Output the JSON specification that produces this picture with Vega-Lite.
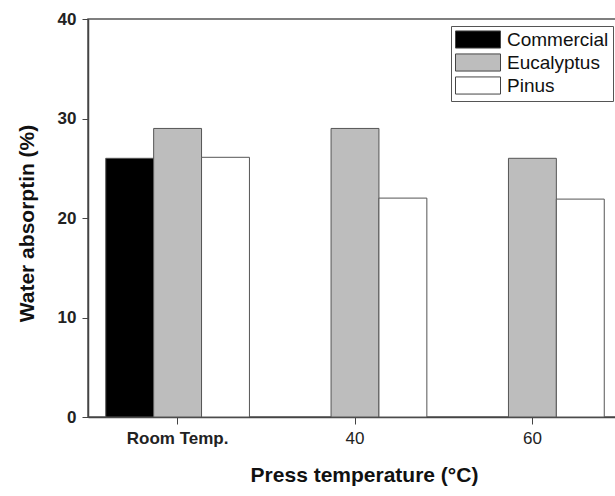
{
  "$schema": "https://vega.github.io/schema/vega-lite/v6.json",
  "autosize": "none",
  "padding": {"left": 88, "top": 19, "right": 0, "bottom": 79},
  "width": 534,
  "height": 398,
  "background": "white",
  "config": {
    "font": "Liberation Sans",
    "view": {"stroke": "#555", "strokeWidth": 1.5}
  },
  "data": {
    "values": [
      {"temp": "Room Temp.", "material": "Commercial", "absorption": 26.0},
      {"temp": "Room Temp.", "material": "Eucalyptus", "absorption": 29.0},
      {"temp": "Room Temp.", "material": "Pinus", "absorption": 26.1},
      {"temp": "40", "material": "Eucalyptus", "absorption": 29.0},
      {"temp": "40", "material": "Pinus", "absorption": 22.0},
      {"temp": "60", "material": "Eucalyptus", "absorption": 26.0},
      {"temp": "60", "material": "Pinus", "absorption": 21.9}
    ]
  },
  "mark": {"type": "bar", "stroke": "#555", "strokeWidth": 1},
  "encoding": {
    "x": {
      "field": "temp",
      "type": "nominal",
      "sort": ["Room Temp.", "40", "60"],
      "scale": {"paddingInner": 0.19, "paddingOuter": 0.1},
      "axis": {
        "title": "Press temperature (°C)",
        "titleFontSize": 21,
        "titleFontWeight": "bold",
        "titleColor": "#111",
        "titleX": 276,
        "titleY": 58,
        "titleBaseline": "middle",
        "labelAngle": 0,
        "labelFontSize": 17,
        "labelColor": "#222",
        "labelPadding": 6,
        "labelFontWeight": {"condition": {"test": "datum.value === 'Room Temp.'", "value": "bold"}, "value": "normal"},
        "tickSize": 7,
        "tickColor": "#444",
        "domainColor": "#444",
        "domainWidth": 1.5
      }
    },
    "xOffset": {
      "field": "material",
      "type": "nominal",
      "scale": {"domain": ["Commercial", "Eucalyptus", "Pinus"], "paddingInner": 0, "paddingOuter": 0}
    },
    "y": {
      "field": "absorption",
      "type": "quantitative",
      "scale": {"domain": [0, 40], "nice": false},
      "axis": {
        "title": "Water absorptin (%)",
        "titleFontSize": 21,
        "titleFontWeight": "bold",
        "titleColor": "#111",
        "titleAngle": -90,
        "titleX": -61,
        "titleY": 204,
        "titleAlign": "center",
        "titleBaseline": "middle",
        "values": [0, 10, 20, 30, 40],
        "grid": false,
        "labelFontSize": 17,
        "labelFontWeight": "bold",
        "labelColor": "#222",
        "labelPadding": 6,
        "tickSize": 6,
        "tickColor": "#444",
        "domainColor": "#444",
        "domainWidth": 1.5
      }
    },
    "fill": {
      "field": "material",
      "type": "nominal",
      "scale": {"domain": ["Commercial", "Eucalyptus", "Pinus"], "range": ["#000000", "#bdbdbd", "#ffffff"]},
      "legend": {
        "title": "\u2003",
        "titleOrient": "right",
        "titleColor": "rgba(0,0,0,0)",
        "titleFontSize": 19,
        "titlePadding": 0,
        "orient": "none",
        "legendX": 363,
        "legendY": 7,
        "padding": 4,
        "strokeColor": "#555",
        "symbolType": "M-1,-0.95H4V0.95H-1Z",
        "symbolSize": 324,
        "symbolStrokeColor": "#444",
        "symbolStrokeWidth": 1,
        "symbolOpacity": 1,
        "labelFontSize": 19,
        "labelColor": "#111",
        "labelOffset": 33,
        "labelLimit": 300,
        "rowPadding": 0
      }
    }
  }
}
